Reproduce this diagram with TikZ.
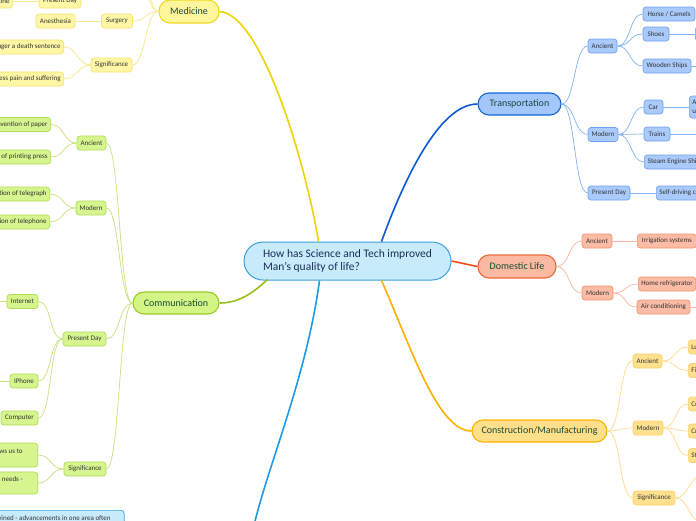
\documentclass[tikz,border=0pt]{standalone}
\usepackage{fontspec}
\setmainfont{Carlito}
\definecolor{txt}{HTML}{333333}
\definecolor{topicT}{HTML}{1B4A3A}
\definecolor{centT}{HTML}{1A2E55}
\definecolor{cF}{HTML}{C8EBFB}
\definecolor{cD}{HTML}{3E9FDC}
\definecolor{cL}{HTML}{1E9BE6}
\definecolor{yF}{HTML}{FFF59A}
\definecolor{yD}{HTML}{F2D923}
\definecolor{yM}{HTML}{F0D400}
\definecolor{ycF}{HTML}{FFF7A6}
\definecolor{ycD}{HTML}{F7E470}
\definecolor{yL}{HTML}{F6E886}
\definecolor{gF}{HTML}{D3F586}
\definecolor{gD}{HTML}{9DCC2A}
\definecolor{gM}{HTML}{97C11C}
\definecolor{gcF}{HTML}{D6F58E}
\definecolor{gcD}{HTML}{B2DC58}
\definecolor{gL}{HTML}{C6E27E}
\definecolor{bF}{HTML}{A3C6FB}
\definecolor{bD}{HTML}{1566D8}
\definecolor{bM}{HTML}{0D5AD4}
\definecolor{bcF}{HTML}{A9CAFB}
\definecolor{bcD}{HTML}{6FA4EE}
\definecolor{bL}{HTML}{84B3F1}
\definecolor{rF}{HTML}{FBB9A1}
\definecolor{rD}{HTML}{F0693C}
\definecolor{rM}{HTML}{F2501E}
\definecolor{rcF}{HTML}{FBBBA4}
\definecolor{rcD}{HTML}{F4936F}
\definecolor{rL}{HTML}{F9B59D}
\definecolor{oF}{HTML}{FFDF8A}
\definecolor{oD}{HTML}{F7B500}
\definecolor{oM}{HTML}{FFB000}
\definecolor{ocF}{HTML}{FFE08E}
\definecolor{ocD}{HTML}{FCD26A}
\definecolor{oL}{HTML}{FFDA8C}
\tikzset{
  box/.style={rounded corners=3pt, line width=0.7pt, inner xsep=3pt, inner ysep=1pt,
    minimum height=14pt, font=\fontsize{7}{8.5}\selectfont, text=txt},
  Ych/.style={box, fill=ycF, draw=ycD},
  Gch/.style={box, fill=gcF, draw=gcD},
  Bch/.style={box, fill=bcF, draw=bcD},
  Rch/.style={box, fill=rcF, draw=rcD},
  Och/.style={box, fill=ocF, draw=ocD},
  topic/.style={rounded corners=11pt, line width=1.1pt, minimum height=22pt,
    font=\fontsize{10}{11}\selectfont, text=topicT, inner xsep=4pt},
  yln/.style={line width=0.7pt, draw=yL},
  gln/.style={line width=0.7pt, draw=gL},
  bln/.style={line width=0.7pt, draw=bL},
  rln/.style={line width=0.7pt, draw=rL},
  oln/.style={line width=0.7pt, draw=oL},
  mainln/.style={line width=1.6pt},
  lr/.style={out=0,in=180,distance=13.5pt},
  rl/.style={out=180,in=0,distance=13.5pt}
}
\begin{document}
\begin{tikzpicture}[x=1pt,y=1pt]
\useasboundingbox (0,0) rectangle (696,-520);
\clip (0,0) rectangle (696,-520);
\fill[white] (0,0) rectangle (696,-520);

% ---------- central ----------
\node[rounded corners=19pt, line width=1pt, fill=cF, draw=cD, minimum width=207pt,
  minimum height=38pt, align=left, text=centT, font=\fontsize{11.5}{13.5}\selectfont]
  (c) at (347.5,-261) {How has Science and Tech improved\\Man's quality of life?};

% ---------- main topics ----------
\node[topic, fill=yF, draw=yD, minimum width=60pt, minimum height=23pt] (med) at (189,-11.5) {Medicine};
\node[topic, fill=gF, draw=gD, minimum width=86pt] (com) at (176,-303) {Communication};
\node[topic, fill=bF, draw=bD, minimum width=83pt] (tr) at (519.5,-104) {Transportation};
\node[topic, fill=rF, draw=rD, minimum width=78pt, minimum height=23pt] (dl) at (517,-266.5) {Domestic Life};
\node[topic, fill=oF, draw=oD, minimum width=135pt] (cm) at (539.5,-431) {Construction/Manufacturing};
\coordinate (bottomtopic) at (253,-530);

\draw[mainln, draw=yM] (med.east) .. controls (262,-14) and (306,-165) .. ([xshift=-29pt]c.north);
\draw[mainln, draw=bM] ([xshift=34pt]c.north) .. controls (402,-185) and (438,-104) .. (tr.west);
\draw[mainln, draw=rM] (c.east) -- (dl.west);
\draw[mainln, draw=oM] ([xshift=34pt]c.south) .. controls (412,-350) and (438,-431) .. (cm.west);
\draw[mainln, draw=gM] ([xshift=-80pt,yshift=1pt]c.south) .. controls (250,-296) and (236,-303) .. (com.east);
\draw[mainln, draw=cL] ([xshift=-28pt]c.south) .. controls (306,-380) and (266,-470) .. (bottomtopic);

% ---------- Medicine ----------
\node[Ych, minimum width=31pt] (msurg) at (117,-21) {Surgery};
\node[Ych, minimum width=39pt] (manes) at (55.5,-21) {Anesthesia};
\node[Ych, minimum width=42pt] (mpres) at (60,-1) {Present Day};
\node[Ych, anchor=east] (mvac) at (13,-1) {Vaccine};
\node[Ych, minimum width=41pt] (msig) at (111.5,-65) {Significance};
\node[Ych, anchor=east] (msig1) at (64,-47) {Getting sick is no longer a death sentence};
\node[Ych, anchor=east] (msig2) at (64,-79) {Less pain and suffering};
\coordinate (mup1) at (132,40);
\coordinate (mup2) at (132,80);
\draw[yln] (med.west) to[rl] (mup1);
\draw[yln] (med.west) to[rl] (mup2);
\draw[yln] (med.west) to[rl] (msurg.east);
\draw[yln] (med.west) to[rl] (msig.east);
\draw[yln] (msurg.west) -- (manes.east);
\draw[yln] (mvac.east) -- (mpres.west);
\draw[yln] (msig.west) to[rl] (msig1.east);
\draw[yln] (msig.west) to[rl] (msig2.east);

% ---------- Communication ----------
\node[Gch, minimum width=29pt] (cAnc) at (91.5,-143) {Ancient};
\node[Gch, anchor=east] (ca1) at (51,-124.5) {Invention of paper};
\node[Gch, anchor=east] (ca2) at (51,-157) {Invention of printing press};
\node[Gch, minimum width=30pt] (cMod) at (91,-208) {Modern};
\node[Gch, anchor=east] (cm1) at (50,-194) {Invention of telegraph};
\node[Gch, anchor=east] (cm2) at (50,-222) {Invention of telephone};
\node[Gch, minimum width=43pt] (cPres) at (84.5,-339) {Present Day};
\node[Gch, minimum width=31pt] (cp1) at (22.5,-301.5) {Internet};
\node[Gch, minimum width=28pt] (cp2) at (24,-381) {IPhone};
\node[Gch, minimum width=37pt] (cp3) at (19.5,-418) {Computer};
\coordinate (cp1x) at (-30,-301.5);
\coordinate (cp2x) at (-30,-381);
\node[Gch, minimum width=42pt] (cSig) at (85,-469) {Significance};
\node[Gch, anchor=east, align=left, minimum height=24pt] (cs1) at (38,-455) {Technology allows us to\hspace*{12pt}\\talk};
\node[Gch, anchor=east, align=left, minimum height=22pt] (cs2) at (38,-483) {Technology meets our needs -\hspace*{12pt}\\fast};
\draw[gln] (com.west) to[rl] (cAnc.east);
\draw[gln] (com.west) to[rl] (cMod.east);
\draw[gln] (com.west) to[rl] (cPres.east);
\draw[gln] (com.west) to[rl] (cSig.east);
\draw[gln] (cAnc.west) to[rl] (ca1.east);
\draw[gln] (cAnc.west) to[rl] (ca2.east);
\draw[gln] (cMod.west) to[rl] (cm1.east);
\draw[gln] (cMod.west) to[rl] (cm2.east);
\draw[gln] (cPres.west) to[rl] (cp1.east);
\draw[gln] (cPres.west) to[rl] (cp2.east);
\draw[gln] (cPres.west) to[rl] (cp3.east);
\draw[gln] (cp1.west) -- (cp1x);
\draw[gln] (cp2.west) -- (cp2x);
\draw[gln] (cSig.west) to[rl] (cs1.east);
\draw[gln] (cSig.west) to[rl] (cs2.east);

% bottom light-blue node
\node[box, fill=cF, draw=cD, anchor=north east, align=left, minimum height=24pt, inner xsep=4pt]
  (bb) at (124.5,-510) {Everything is intertwined - advancements in one area often\hspace*{9.5pt}\\lead to advancements in others};

% ---------- Transportation ----------
\node[Bch, minimum width=29pt] (tAnc) at (602.5,-46) {Ancient};
\node[Bch, minimum width=52pt] (t1) at (669,-14) {Horse / Camels};
\node[Bch, minimum width=26pt] (t2) at (656,-34) {Shoes};
\node[Bch, anchor=west] (t2b) at (695,-34) {Sandals};
\node[Bch, minimum width=48pt] (t3) at (667,-66) {Wooden Ships};
\coordinate (t3x) at (720,-66);
\node[Bch, minimum width=30pt] (tMod) at (603,-134.5) {Modern};
\node[Bch, minimum width=19pt] (t4) at (653.5,-107) {Car};
\node[Bch, anchor=west, align=left, minimum height=22pt] (t4b) at (689,-107) {Automobile\\used daily};
\node[Bch, minimum width=26pt] (t5) at (657,-134) {Trains};
\coordinate (t5x) at (720,-134);
\node[Bch, anchor=west, inner xsep=3.5pt] (t6) at (644,-162) {Steam Engine Ships};
\node[Bch, minimum width=42pt] (tPres) at (609,-193) {Present Day};
\node[Bch, anchor=west] (t7) at (656,-193) {Self-driving cars};
\draw[bln] (tr.east) to[lr] (tAnc.west);
\draw[bln] (tr.east) to[lr] (tMod.west);
\draw[bln] (tr.east) to[lr] (tPres.west);
\draw[bln] (tAnc.east) to[lr] (t1.west);
\draw[bln] (tAnc.east) to[lr] (t2.west);
\draw[bln] (tAnc.east) to[lr] (t3.west);
\draw[bln] (t2.east) -- (t2b.west);
\draw[bln] (t3.east) -- (t3x);
\draw[bln] (tMod.east) to[lr] (t4.west);
\draw[bln] (tMod.east) to[lr] (t5.west);
\draw[bln] (tMod.east) to[lr] (t6.west);
\draw[bln] (t4.east) -- (t4b.west);
\draw[bln] (t5.east) -- (t5x);
\draw[bln] (tPres.east) -- (t7.west);

% ---------- Domestic Life ----------
\node[Rch, minimum width=30pt] (dAnc) at (597,-241) {Ancient};
\node[Rch, anchor=west, minimum width=59pt] (d1) at (637,-241) {Irrigation systems};
\node[Rch, minimum width=31pt] (dMod) at (597.5,-293) {Modern};
\node[Rch, anchor=west] (d2) at (638,-284) {Home refrigerator};
\node[Rch, minimum width=53pt] (d3) at (663.5,-307) {Air conditioning};
\coordinate (d3x) at (720,-307);
\draw[rln] (dl.east) to[lr] (dAnc.west);
\draw[rln] (dl.east) to[lr] (dMod.west);
\draw[rln] (dAnc.east) -- (d1.west);
\draw[rln] (dMod.east) to[lr] (d2.west);
\draw[rln] (dMod.east) to[lr] (d3.west);
\draw[rln] (d3.east) -- (d3x);

% ---------- Construction ----------
\node[Och, minimum width=29pt] (kAnc) at (647.5,-361) {Ancient};
\node[Och, anchor=west] (k1) at (688,-347) {Lumber};
\node[Och, anchor=west] (k2) at (688,-370.5) {Fire};
\node[Och, minimum width=30pt] (kMod) at (648,-428) {Modern};
\node[Och, anchor=west] (k3) at (688,-404) {Concrete};
\node[Och, anchor=west] (k4) at (688,-431) {Cranes};
\node[Och, anchor=west] (k5) at (688,-455.5) {Steel};
\node[Och, minimum width=42pt] (kSig) at (654,-498) {Significance};
\coordinate (ks1) at (702,-476);
\coordinate (ks2) at (702,-522);
\draw[oln] (cm.east) to[lr] (kAnc.west);
\draw[oln] (cm.east) to[lr] (kMod.west);
\draw[oln] (cm.east) to[lr] (kSig.west);
\draw[oln] (kAnc.east) to[lr] (k1.west);
\draw[oln] (kAnc.east) to[lr] (k2.west);
\draw[oln] (kMod.east) to[lr] (k3.west);
\draw[oln] (kMod.east) to[lr] (k4.west);
\draw[oln] (kMod.east) to[lr] (k5.west);
\draw[oln] (kSig.east) to[lr] (ks1);
\draw[oln] (kSig.east) to[lr] (ks2);
\end{tikzpicture}
\end{document}
